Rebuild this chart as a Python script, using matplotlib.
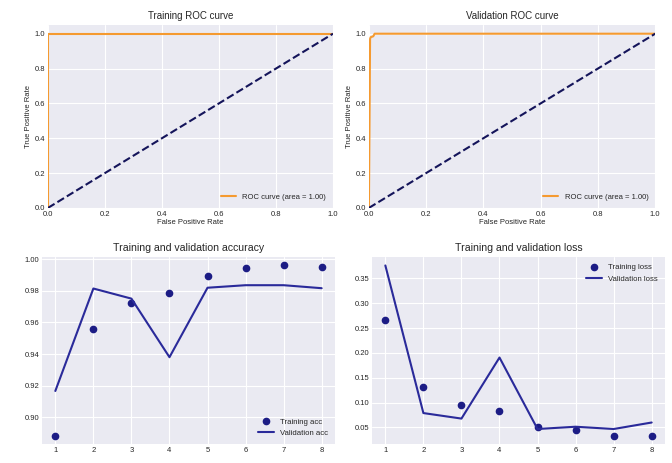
import numpy as np
import matplotlib
matplotlib.use('Agg')
from matplotlib import pyplot as plt

plt.style.use('seaborn-v0_8-darkgrid')
plt.rcParams['font.family'] = ['Liberation Sans', 'DejaVu Sans']

# ROC curves
train_fpr = [0.0, 0.0, 0.0, 1.0]
train_tpr = [0.0, 0.0, 1.0, 1.0]
val_fpr = [0.0, 0.0, 0.004, 0.006, 0.015, 0.02, 1.0]
val_tpr = [0.0, 0.0, 0.97, 0.98, 0.985, 1.0, 1.0]
train_auc = 1.00
val_auc = 1.00

# training history
epochs = [1, 2, 3, 4, 5, 6, 7, 8]
acc = [0.8884, 0.9556, 0.9726, 0.9784, 0.9892, 0.9946, 0.9961, 0.9954]
val_acc = [0.9166, 0.9815, 0.9751, 0.9380, 0.9820, 0.9836, 0.9836, 0.9817]
loss = [0.2667, 0.1322, 0.0955, 0.0836, 0.0507, 0.0441, 0.0336, 0.0336]
val_loss = [0.3760, 0.0788, 0.0677, 0.1906, 0.0467, 0.0513, 0.0467, 0.0598]

fig = plt.figure(figsize=(6.72, 4.63), dpi=100)

tick_fs = 5.5
label_fs = 5.5

def roc_panel(rect, fpr, tpr, auc, title):
    ax = fig.add_axes(rect)
    ax.plot(fpr, tpr, color='#f59a30', lw=1.5,
            label='ROC curve (area = %0.2f)' % auc)
    ax.plot([0, 1], [0, 1], color='#14145a', lw=1.5, linestyle='--')
    ax.set_xlim([0.0, 1.0])
    ax.set_ylim([0.0, 1.05])
    ax.set_xlabel('False Positive Rate', fontsize=label_fs, labelpad=1)
    ax.set_ylabel('True Positive Rate', fontsize=label_fs, labelpad=2)
    ax.set_title(title, fontsize=7, pad=4)
    ax.tick_params(labelsize=tick_fs, pad=2)
    ax.legend(loc='lower right', fontsize=5.5)
    return ax

roc_panel([0.0714, 0.551, 0.4241, 0.395], train_fpr, train_tpr, train_auc,
          'Training ROC curve')
roc_panel([0.549, 0.551, 0.426, 0.395], val_fpr, val_tpr, val_auc,
          'Validation ROC curve')

ax3 = fig.add_axes([0.0625, 0.041, 0.436, 0.404])
ax3.plot(epochs, acc, 'o', color='#1c1c85', markersize=4.5, label='Training acc')
ax3.plot(epochs, val_acc, '-', color='#2a2a9a', lw=1.5, label='Validation acc')
ax3.set_title('Training and validation accuracy', fontsize=7.6, pad=4)
ax3.tick_params(labelsize=tick_fs, pad=2)
ax3.legend(loc='lower right', fontsize=5.6)

ax4 = fig.add_axes([0.5536, 0.041, 0.436, 0.404])
ax4.plot(epochs, loss, 'o', color='#1c1c85', markersize=4.5, label='Training loss')
ax4.plot(epochs, val_loss, '-', color='#2a2a9a', lw=1.5, label='Validation loss')
ax4.set_title('Training and validation loss', fontsize=7.6, pad=4)
ax4.tick_params(labelsize=tick_fs, pad=2)
ax4.legend(loc='upper right', fontsize=5.6)

fig.savefig('out.png', dpi=100)
